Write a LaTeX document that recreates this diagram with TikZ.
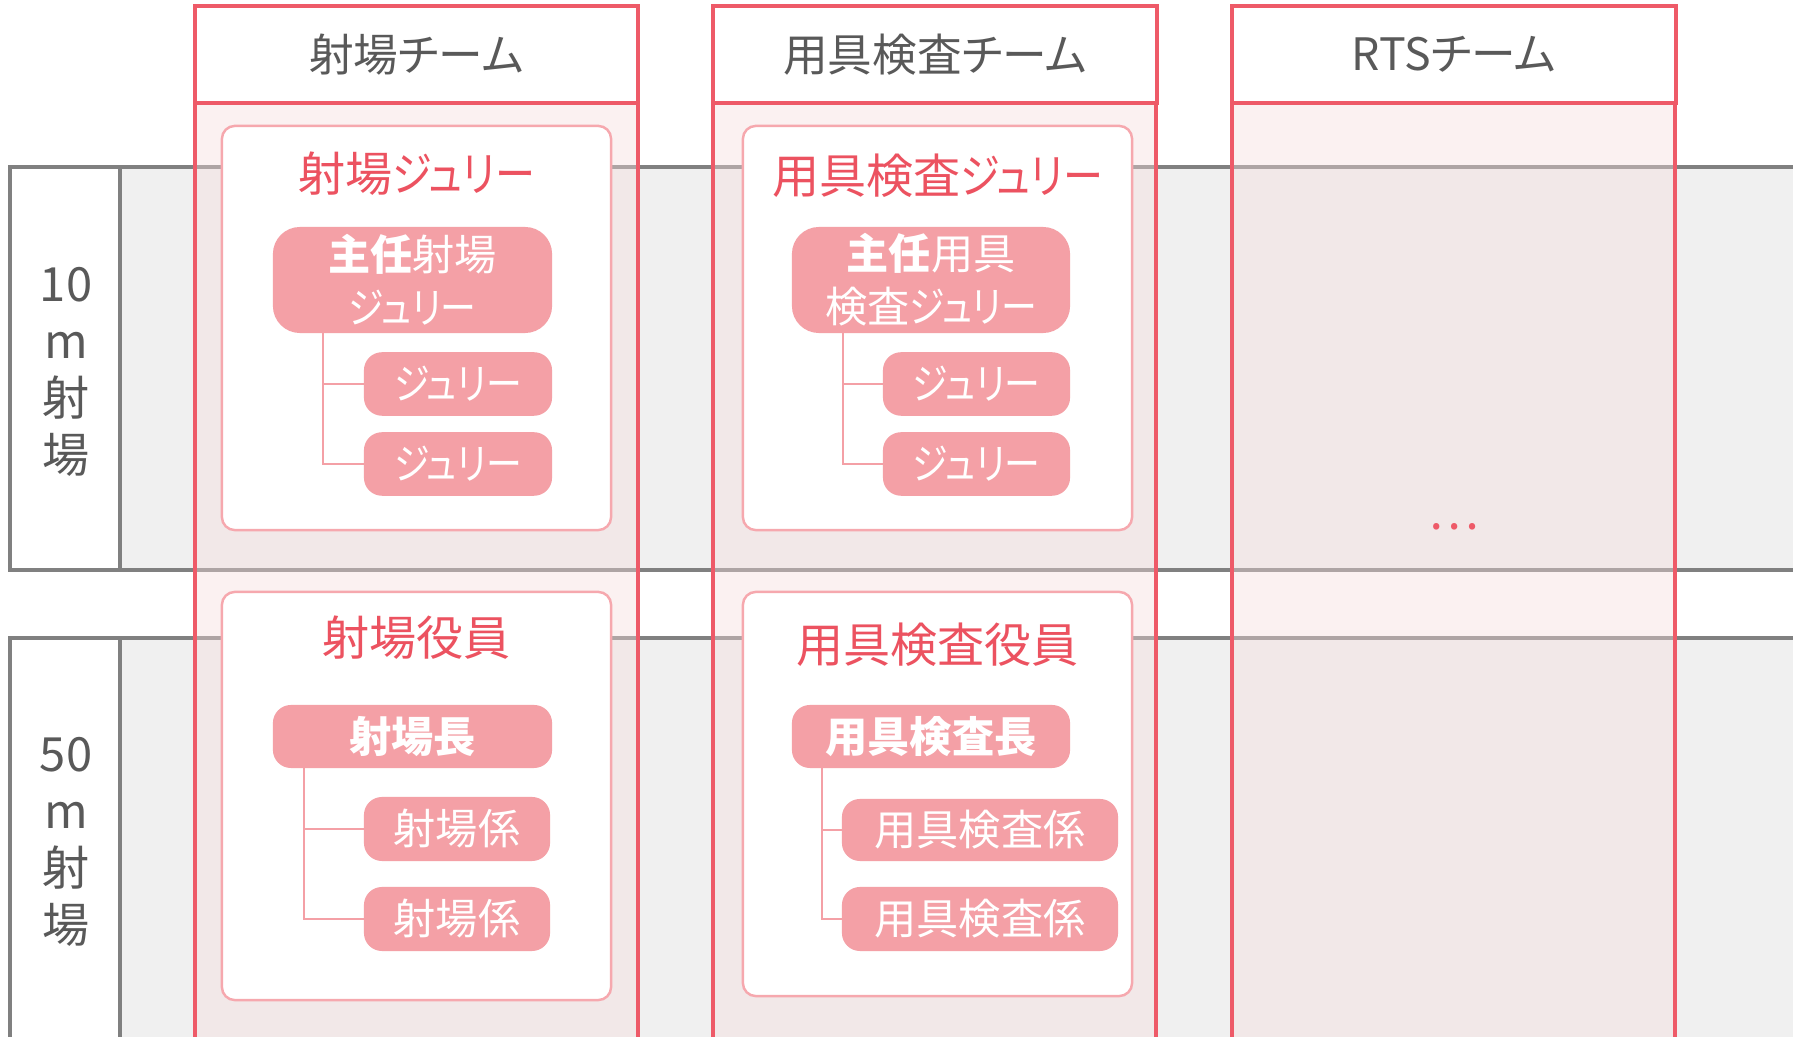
\documentclass[tikz,border=0pt]{standalone}
\usepackage{fontspec}
\usepackage{tikz}
\usetikzlibrary{positioning}
\newfontfamily\jp{Noto Sans CJK JP}[RawFeature=+palt]
\newfontfamily\jpnarrow{Noto Sans CJK JP}[RawFeature=+palt, FakeStretch=0.85]
\newcommand\jury{{\jpnarrow ジュリー}}

\definecolor{teamred}{RGB}{238,90,104}
\definecolor{titlered}{RGB}{236,82,96}
\definecolor{rolepink}{RGB}{244,160,166}
\definecolor{cardline}{RGB}{246,168,174}
\definecolor{colfill}{RGB}{245,220,220}
\definecolor{bandgray}{RGB}{240,240,240}
\definecolor{bandline}{RGB}{128,128,128}
\definecolor{textgray}{RGB}{89,89,89}

\tikzset{
  band/.style={draw=bandline, line width=1.15pt},
  team/.style={draw=teamred, line width=1.15pt},
  teamhead/.style={team, minimum width=4.43cm, minimum height=0.97cm, inner sep=0, outer sep=0,
    text=textgray, font=\jp\fontsize{12.7pt}{15pt}\selectfont},
  card/.style={draw=cardline, fill=white, line width=0.7pt, rounded corners=0.13cm,
    minimum width=3.89cm, inner sep=0},
  cardtitle/.style={text=titlered, inner sep=0, font=\jp\fontsize{13.4pt}{16pt}\selectfont},
  role/.style={fill=rolepink, text=white, rounded corners=0.18cm, inner sep=0, outer sep=0,
    align=center, font=\jp\fontsize{12pt}{15pt}\selectfont},
  tree/.style={draw=rolepink, line width=0.45pt},
  lane/.style={text=textgray, align=center, inner sep=0, font=\jp\fontsize{13.4pt}{16.2pt}\selectfont},
}

\begin{document}
\begin{tikzpicture}[x=0.01cm, y=-0.01cm]

    \useasboundingbox (0,0) rectangle (1793,1037);
    \clip (0,0) rectangle (1793,1037);

    % Ranges
    \fill[bandgray] (10,167) rectangle (1810,570);
    \fill[bandgray] (10,638) rectangle (1810,1041);
    \draw[band] (120,167) -- (1810,167) (120,570) -- (1810,570);
    \draw[band] (120,638) -- (1810,638) (120,1041) -- (1810,1041);
    \draw[band, fill=white] (10,167) rectangle (120,570);
    \draw[band, fill=white] (10,638) rectangle (120,1041);
    \node[lane] (r10) at (66,372) {10\\m\\射\\場};
    \node[lane] (r50) at (66,842) {50\\m\\射\\場};

    % Teams
    \node[teamhead] (h1) at (416.5,54.5) {射場チーム};
    \node[teamhead] (h2) at (935,54.5) {用具検査チーム};
    \node[teamhead] (h3) at (1454,54.5) {RTSチーム};
    \foreach \h in {h1,h2,h3}
        \draw[team, fill=colfill, fill opacity=0.4] (\h.south west) rectangle ++(443,950);

    % Jury
    \node[card, minimum height=4.04cm] (c1) at (416.5,328) {};
    \node[cardtitle] (t1) at (416.5,174) {射場\jury};
    \node[role, rounded corners=0.27cm, minimum width=2.79cm, minimum height=1.06cm] (j1) at (412.5,280) {{\bfseries 主任}射場\\\jury};
    \node[role, minimum width=1.88cm, minimum height=0.635cm] (j1a) at (458,384) {\jury};
    \node[role, minimum width=1.88cm, minimum height=0.635cm] (j1b) at (458,464) {\jury};
    \draw[tree] ([xshift=0.5cm]j1.south west) |- (j1a.west);
    \draw[tree] ([xshift=0.5cm]j1.south west) |- (j1b.west);

    \node[card, minimum height=4.04cm] (c2) at (937.5,328) {};
    \node[cardtitle] (t2) at (937.5,176) {用具検査\jury};
    \node[role, rounded corners=0.27cm, minimum width=2.78cm, minimum height=1.06cm] (j2) at (931,280) {{\bfseries 主任}用具\\検査\jury};
    \node[role, minimum width=1.87cm, minimum height=0.635cm] (j2a) at (976.5,384) {\jury};
    \node[role, minimum width=1.87cm, minimum height=0.635cm] (j2b) at (976.5,464) {\jury};
    \draw[tree] ([xshift=0.51cm]j2.south west) |- (j2a.west);
    \draw[tree] ([xshift=0.51cm]j2.south west) |- (j2b.west);

    % Officials
    \node[card, minimum height=4.08cm] (c3) at (416.5,796) {};
    \node[cardtitle] (t3) at (416.5,638) {射場役員};
    \node[role, minimum width=2.79cm, minimum height=0.63cm, font=\jp\bfseries\fontsize{12pt}{15pt}\selectfont] (o1) at (412.5,736.5) {射場長};
    \node[role, minimum width=1.86cm, minimum height=0.64cm] (o1a) at (457,829) {射場係};
    \node[role, minimum width=1.86cm, minimum height=0.64cm] (o1b) at (457,919) {射場係};
    \draw[tree] ([xshift=0.31cm]o1.south west) |- (o1a.west);
    \draw[tree] ([xshift=0.31cm]o1.south west) |- (o1b.west);

    \node[card, minimum height=4.04cm] (c4) at (937.5,794) {};
    \node[cardtitle] (t4) at (937.5,645) {用具検査役員};
    \node[role, minimum width=2.78cm, minimum height=0.63cm, font=\jp\bfseries\fontsize{12pt}{15pt}\selectfont] (o2) at (931,736.5) {用具検査長};
    \node[role, minimum width=2.76cm, minimum height=0.62cm] (o2a) at (980,830) {用具検査係};
    \node[role, minimum width=2.76cm, minimum height=0.64cm] (o2b) at (980,919) {用具検査係};
    \draw[tree] ([xshift=0.3cm]o2.south west) |- (o2a.west);
    \draw[tree] ([xshift=0.3cm]o2.south west) |- (o2b.west);

    % RTS
    \node[text=teamred, inner sep=0, font=\jp\fontsize{13.6pt}{16pt}\selectfont] (more) at (1454,527) {…};

\end{tikzpicture}
\end{document}
